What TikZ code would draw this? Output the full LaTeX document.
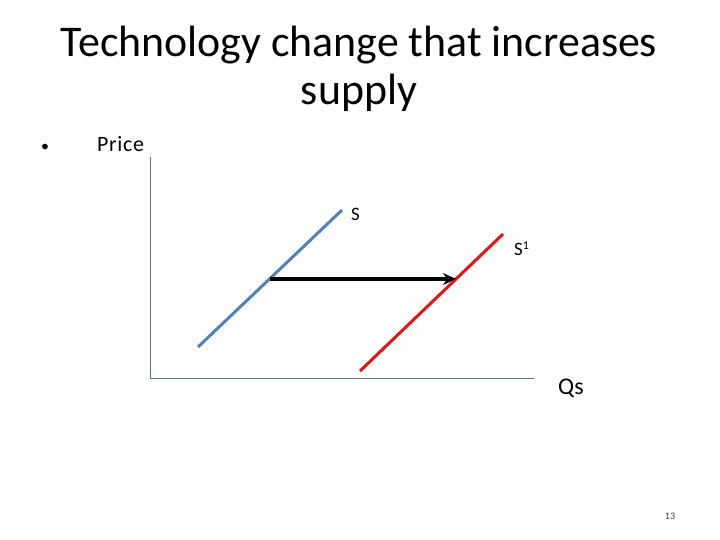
\documentclass[tikz,border=0pt]{standalone}
\usepackage{fontspec}
\setmainfont{Carlito}
\usetikzlibrary{arrows.meta}
\definecolor{sblue}{RGB}{79,129,189}
\definecolor{sred}{RGB}{230,20,20}
\definecolor{axisc}{RGB}{95,115,140}
\begin{document}
\begin{tikzpicture}[x=1bp,y=-1bp,
  lbl/.style={inner sep=0pt,anchor=base},
  curve/.style={line width=3bp},
  axisline/.style={draw=axisc,line width=1bp}]
\useasboundingbox[fill=white] (0,0) rectangle (720,540);
% title
\node[lbl] (t1) at (359,57) {\fontsize{44}{48}\selectfont Technology change that increases};
\node[lbl] (t2) at (359,105) {\fontsize{44}{48}\selectfont supply};
% bullet and Price
\node[lbl] (bul) at (45,152) {\fontsize{16}{20}\selectfont •};
\node[lbl,anchor=base west] (price) at (97,152) {\fontsize{22}{24}\selectfont\addfontfeature{LetterSpace=3}Price};
% axes
\coordinate (ytop) at (150,157);
\coordinate (orig) at (150,378);
\coordinate (xend) at (534,378);
\draw[axisline] (ytop) -- (orig) -- (xend);
% supply curves
\coordinate (s0a) at (198,347);
\coordinate (s0b) at (342,210);
\coordinate (s1a) at (360,371);
\coordinate (s1b) at (503,234);
\draw[curve,draw=sblue] (s0a) -- (s0b);
\draw[curve,draw=sred] (s1a) -- (s1b);
% shift arrow
\coordinate (arA) at (270,279);
\coordinate (arB) at (456,279);
\draw[line width=4bp,-{Stealth[length=13bp,width=12bp]}] (arA) -- (arB);
% labels
\node[lbl,anchor=base west] (slab) at (351,221) {\fontsize{19}{20}\selectfont S};
\node[lbl,anchor=base west] (s1lab) at (514,256) {\fontsize{19}{20}\selectfont S\raisebox{6bp}{\fontsize{12}{14}\selectfont 1}};
\node[lbl,anchor=base west] (qs) at (558,394) {\fontsize{24}{26}\selectfont Qs};
\node[lbl] (pg) at (670,519) {\fontsize{10}{12}\selectfont\color{darkgray} 13};
\end{tikzpicture}
\end{document}
